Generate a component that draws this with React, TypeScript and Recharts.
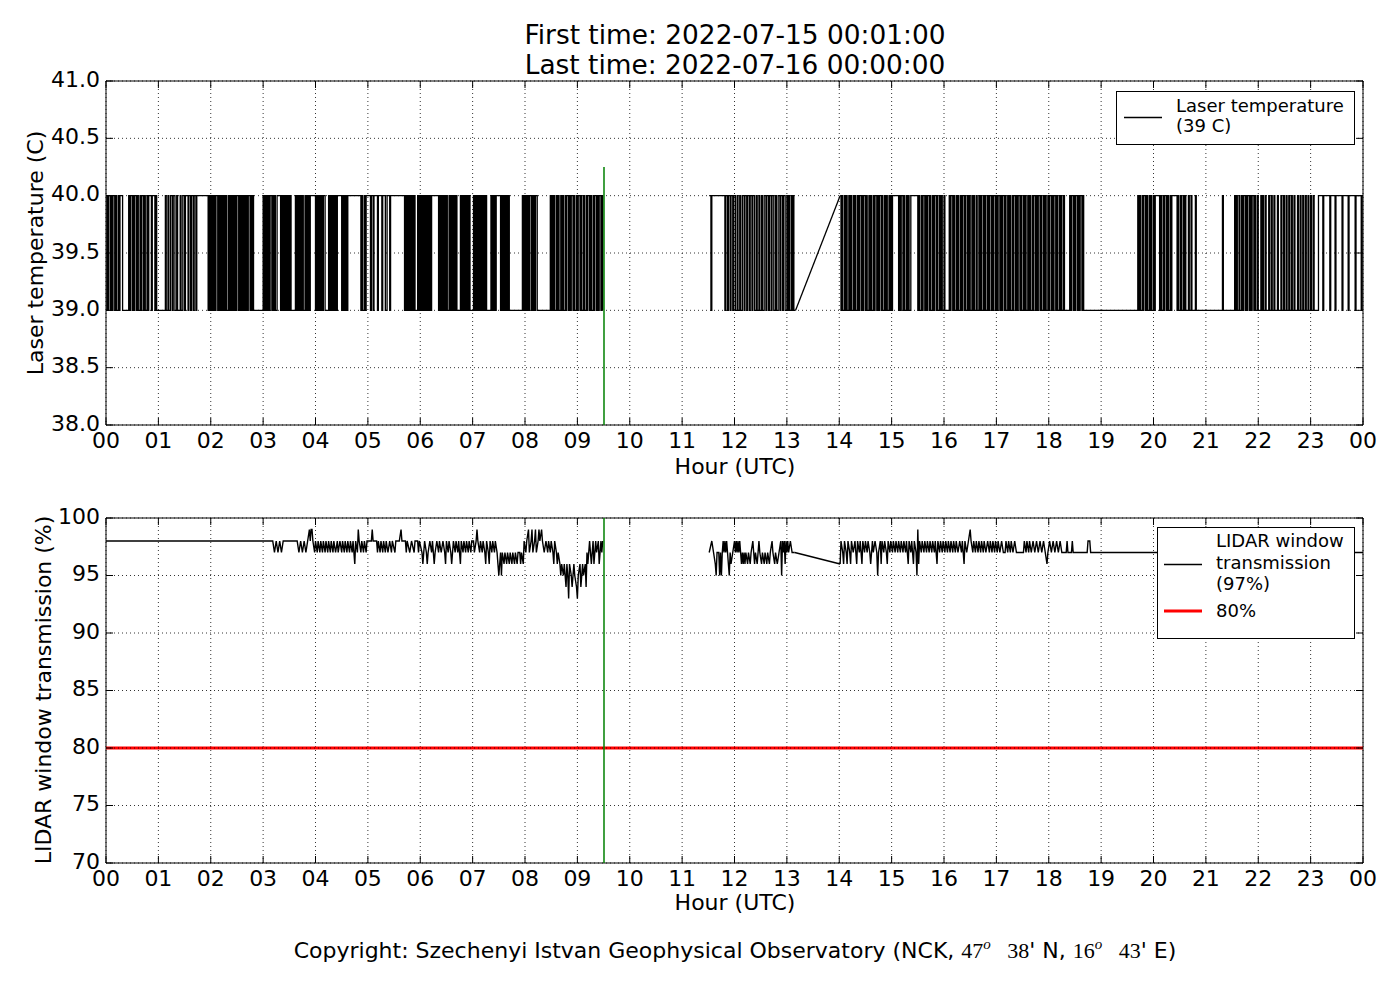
import React from "react";
import { CartesianGrid, Line, LineChart, ReferenceArea, ReferenceLine, XAxis, YAxis } from "recharts";

// x values are minutes of the day (00:00 .. 24:00)
const hourTicks = [0, 60, 120, 180, 240, 300, 360, 420, 480, 540, 600, 660, 720, 780, 840, 900, 960, 1020, 1080, 1140, 1200, 1260, 1320, 1380, 1440];
const hourLabels = ["00", "01", "02", "03", "04", "05", "06", "07", "08", "09", "10", "11", "12", "13", "14", "15", "16", "17", "18", "19", "20", "21", "22", "23", "00"];
const tempTicks = [38, 38.5, 39, 39.5, 40, 40.5, 41];
const transTicks = [70, 75, 80, 85, 90, 95, 100];
const lastSampleMinute = 570.5;
const markerTop = 40.25;
const threshold = 80;

type Pair = [number, number];

// laser temperature (C), change points [minute, value]
const laserA: Pair[] = [
  [0, 39], [1, 40], [2, 39], [3, 40], [5, 39], [6, 40], [7, 39], [8, 40], [10, 39], [11, 40], [12, 39], [14, 40], [15, 39], [16, 40], [19, 39],
  [26, 40], [27, 39], [28, 40], [30, 39], [31, 40], [32, 39], [33, 40], [35, 39], [36, 40], [37, 39], [39, 40], [40, 39], [41, 40], [43, 39],
  [44, 40], [45, 39], [47, 40], [48, 39], [49, 40], [52, 39], [53, 40], [56, 39], [57, 40], [58, 39],
  [68, 40], [69, 39], [71, 40], [72, 39], [74, 40], [76, 39], [77, 40], [79, 39], [81, 40], [82, 39], [85, 40], [86, 39], [88, 40], [90, 39],
  [91, 40], [94, 39], [95, 40], [97, 39], [98, 40], [100, 39], [101, 40], [103, 39], [104, 40],
  [117, 39], [118, 40], [119, 39], [120, 40], [121, 39], [122, 40], [123, 39], [124, 40], [125, 39], [126, 40], [128, 39], [129, 40], [130, 39],
  [131, 40], [132, 39], [133, 40], [134, 39], [135, 40], [136, 39], [137, 40], [138, 39], [140, 40], [141, 39], [142, 40], [143, 39], [144, 40],
  [145, 39], [146, 40], [147, 39], [148, 40], [149, 39], [150, 40], [152, 39], [153, 40], [154, 39], [155, 40], [156, 39], [157, 40], [158, 39],
  [159, 40], [160, 39], [161, 40], [162, 39], [163, 40], [165, 39], [166, 40], [167, 39], [168, 40], [169, 39],
  [180, 40], [181, 39], [182, 40], [183, 39], [184, 40], [185, 39], [186, 40], [187, 39], [188, 40], [190, 39], [191, 40], [192, 39], [193, 40],
  [194, 39], [196, 40], [200, 39], [201, 40], [202, 39], [203, 40], [204, 39], [205, 40], [206, 39], [207, 40], [208, 39], [209, 40], [210, 39],
  [211, 40], [212, 39], [217, 40], [218, 39], [219, 40], [220, 39], [221, 40], [222, 39], [223, 40], [224, 39], [225, 40], [226, 39], [228, 40],
  [229, 39], [230, 40], [231, 39], [232, 40], [233, 39], [234, 40], [240, 39], [241, 40], [242, 39], [243, 40], [244, 39], [245, 40], [246, 39],
  [247, 40], [248, 39], [249, 40], [251, 39], [255, 40], [256, 39], [257, 40], [258, 39], [259, 40], [260, 39], [261, 40], [262, 39], [263, 40],
  [264, 39], [265, 40], [270, 39], [271, 40], [272, 39], [273, 40], [274, 39], [275, 40], [276, 39], [277, 40],
  [292, 39], [293, 40], [294, 39], [296, 40], [297, 39], [298, 40], [303, 39], [304, 40], [306, 39], [307, 40], [311, 39], [312, 40], [316, 39],
  [317, 40], [320, 39], [322, 40], [325, 39], [326, 40],
  [342, 39], [343, 40], [344, 39], [345, 40], [346, 39], [347, 40], [348, 39], [349, 40], [350, 39], [351, 40], [352, 39], [353, 40], [354, 39],
  [357, 40], [358, 39], [359, 40], [360, 39], [361, 40], [362, 39], [363, 40], [364, 39], [365, 40], [366, 39], [367, 40], [368, 39], [369, 40],
  [370, 39], [371, 40], [372, 39], [373, 40], [381, 39], [382, 40], [383, 39], [384, 40], [385, 39], [386, 40], [387, 39], [388, 40], [389, 39],
  [390, 40], [391, 39], [393, 40], [394, 39], [395, 40], [396, 39], [397, 40], [398, 39], [399, 40], [400, 39], [401, 40], [402, 39],
  [406, 40], [407, 39], [408, 40], [409, 39], [410, 40], [411, 39], [412, 40], [413, 39], [414, 40], [415, 39], [416, 40], [417, 39],
  [421, 40], [422, 39], [423, 40], [424, 39], [425, 40], [426, 39], [427, 40], [428, 39], [429, 40], [430, 39], [431, 40], [432, 39], [433, 40],
  [434, 39], [435, 40], [436, 39], [441, 40], [442, 39], [443, 40], [444, 39], [445, 40], [446, 39], [447, 40],
  [452, 39], [453, 40], [454, 39], [455, 40], [456, 39], [457, 40], [458, 39], [459, 40], [460, 39], [461, 40], [462, 39],
  [477, 40], [478, 39], [479, 40], [480, 39], [481, 40], [482, 39], [483, 40], [484, 39], [485, 40], [487, 39], [488, 40], [489, 39], [490, 40],
  [491, 39], [492, 40], [494, 39],
  [509, 40], [510, 39], [511, 40], [512, 39], [513, 40], [514, 39], [516, 40], [517, 39], [518, 40], [519, 39], [521, 40], [522, 39], [523, 40],
  [524, 39], [526, 40], [527, 39], [528, 40], [530, 39], [531, 40], [532, 39], [533, 40], [535, 39], [536, 40], [537, 39], [539, 40], [540, 39],
  [541, 40], [543, 39], [544, 40], [545, 39], [547, 40], [548, 39], [550, 40], [551, 39], [552, 40], [554, 39], [555, 40], [556, 39], [558, 40],
  [559, 39], [560, 40], [562, 39], [563, 40], [564, 39], [565, 40], [567, 39], [568, 40], [569, 39],
];

const laserB: Pair[] = [
  [691, 40], [693, 39], [694, 40], [709, 39], [710, 40], [712, 39], [713, 40], [715, 39], [716, 40], [718, 39], [719, 40], [721, 39], [723, 40],
  [724, 39], [726, 40], [727, 39], [729, 40], [731, 39], [732, 40], [734, 39], [735, 40], [737, 39], [738, 40], [740, 39], [741, 40], [743, 39],
  [745, 40], [746, 39], [748, 40], [749, 39], [751, 40], [752, 39], [754, 40], [756, 39], [757, 40], [759, 39], [760, 40], [762, 39], [763, 40],
  [765, 39], [767, 40], [768, 39], [770, 40], [772, 39], [773, 40], [775, 39], [776, 40], [778, 39], [780, 40], [781, 39], [782, 40], [783, 39],
  [785, 40], [786, 39], [787, 40], [788, 39], [790, 39],
];

const laserBridge: Pair[] = [[790, 39], [841, 40]];

const laserC: Pair[] = [
  [841, 40], [842, 39], [843, 40], [844, 39], [846, 40], [847, 39], [848, 40], [849, 39], [851, 40], [852, 39], [853, 40], [854, 39], [856, 40],
  [857, 39], [858, 40], [859, 39], [861, 40], [862, 39], [863, 40], [865, 39], [866, 40], [867, 39], [868, 40], [870, 39], [871, 40], [872, 39],
  [874, 40], [875, 39], [876, 40], [877, 39], [879, 40], [880, 39], [881, 40], [883, 39], [884, 40], [885, 39], [886, 40], [888, 39], [889, 40],
  [890, 39], [892, 40], [893, 39], [894, 40], [895, 39], [897, 40], [898, 39], [899, 40], [900, 39], [901, 40],
  [908, 39], [909, 40], [910, 39], [911, 40], [913, 39], [914, 40], [915, 39], [917, 40], [918, 39], [919, 40], [920, 39], [922, 40],
  [930, 39], [931, 40], [932, 39], [934, 40], [935, 39], [936, 40], [938, 39], [939, 40], [940, 39], [941, 40], [943, 39], [944, 40], [945, 39],
  [947, 40], [948, 39], [949, 40], [951, 39], [952, 40], [953, 39], [955, 40], [956, 39], [957, 40], [958, 39], [960, 40], [961, 39],
  [966, 40], [967, 39], [968, 40], [970, 39], [971, 40], [972, 39], [974, 40], [975, 39], [976, 40], [977, 39], [979, 40], [980, 39], [981, 40],
  [983, 39], [984, 40], [985, 39], [987, 40], [988, 39], [989, 40], [990, 39], [992, 40], [993, 39], [994, 40], [995, 39], [997, 40], [998, 39],
  [1000, 40], [1001, 39], [1002, 40], [1003, 39], [1005, 40], [1006, 39], [1007, 40], [1008, 39], [1010, 40], [1011, 39], [1012, 40], [1014, 39],
  [1015, 40], [1016, 39], [1017, 40], [1019, 39], [1020, 40], [1021, 39], [1022, 40], [1024, 39], [1025, 40], [1026, 39], [1027, 40], [1029, 39],
  [1030, 40], [1031, 39], [1033, 40], [1034, 39], [1035, 40], [1036, 39], [1038, 40], [1039, 39], [1040, 40], [1042, 39], [1043, 40], [1044, 39],
  [1045, 40], [1047, 39], [1048, 40], [1049, 39], [1051, 40], [1052, 39], [1053, 40], [1054, 39], [1056, 40], [1057, 39], [1058, 40], [1059, 39],
  [1061, 40], [1062, 39], [1063, 40], [1065, 39], [1066, 40], [1067, 39], [1068, 40], [1070, 39], [1071, 40], [1072, 39], [1074, 40], [1075, 39],
  [1076, 40], [1077, 39], [1079, 40], [1080, 39], [1081, 40], [1083, 39], [1084, 40], [1085, 39], [1086, 40], [1088, 39], [1089, 40], [1090, 39],
  [1092, 40], [1093, 39], [1094, 40], [1095, 39], [1097, 40], [1098, 39], [1104, 40], [1105, 39], [1106, 40], [1108, 39], [1109, 40], [1110, 39],
  [1111, 40], [1113, 39], [1114, 40], [1115, 39], [1116, 40], [1118, 39], [1119, 40], [1120, 39],
  [1182, 40], [1183, 39], [1184, 40], [1185, 39], [1187, 40], [1188, 39], [1189, 40], [1191, 39], [1192, 40], [1193, 39], [1195, 40], [1196, 39],
  [1197, 40], [1198, 39], [1200, 40], [1201, 39], [1202, 40], [1207, 39], [1208, 40], [1209, 39], [1211, 40], [1212, 39], [1213, 40], [1215, 39],
  [1216, 40], [1217, 39], [1219, 40], [1220, 39], [1221, 40], [1227, 39], [1228, 40], [1229, 39], [1231, 40], [1232, 39], [1234, 40], [1235, 39],
  [1236, 40], [1237, 39], [1240, 40], [1241, 39], [1243, 40], [1244, 39], [1248, 40], [1249, 39], [1279, 40], [1280, 39],
  [1293, 40], [1294, 39], [1295, 40], [1296, 39], [1298, 40], [1299, 39], [1301, 40], [1302, 39], [1303, 40], [1305, 39], [1306, 40], [1307, 39],
  [1308, 40], [1310, 39], [1311, 40], [1312, 39], [1313, 40], [1315, 39], [1316, 40], [1317, 39], [1319, 40], [1320, 39], [1323, 40], [1324, 39],
  [1325, 40], [1326, 39], [1328, 40], [1329, 39], [1332, 40], [1333, 39], [1335, 40], [1336, 39], [1338, 40], [1339, 39], [1342, 40], [1343, 39],
  [1346, 40], [1347, 39], [1349, 40], [1350, 39], [1352, 40], [1353, 39], [1355, 40], [1356, 39], [1358, 40], [1359, 39], [1361, 40], [1362, 39],
  [1365, 40], [1366, 39], [1368, 40], [1369, 39], [1371, 40], [1372, 39], [1374, 40], [1375, 39], [1377, 40], [1378, 39], [1380, 40], [1381, 39],
  [1383, 40], [1384, 39], [1389, 40], [1394, 39], [1395, 40], [1402, 39], [1403, 40], [1408, 39], [1409, 40], [1416, 39], [1417, 40], [1423, 39],
  [1424, 40], [1431, 39], [1432, 40], [1438, 39], [1439, 40], [1440, 40],
];

// LIDAR window transmission (%), samples [minute, value]
const transA: Pair[] = [
  [0, 98], [191, 98], [193, 97], [195, 98], [197, 97], [199, 98], [201, 97], [203, 98],
  [219, 98], [221, 97], [223, 98], [225, 97], [227, 98], [229, 97], [231, 98], [233, 99],
  [234, 98], [235, 99], [236, 99], [237, 98], [239, 97], [240, 98], [242, 97], [243, 98], [245, 97], [246, 98], [248, 97], [249, 98], [251, 97],
  [252, 98], [254, 97], [255, 98], [257, 97], [258, 98], [260, 97], [261, 98], [263, 97], [265, 98], [266, 97], [268, 98], [270, 97], [271, 98],
  [273, 97], [274, 98], [276, 97], [277, 98], [279, 97], [280, 98], [282, 97], [283, 98], [285, 96], [286, 98], [288, 97], [289, 99], [290, 98],
  [292, 97], [293, 98], [295, 97], [296, 98], [298, 97], [299, 98], [304, 98], [305, 99], [306, 98], [310, 98], [311, 97], [312, 98], [314, 97],
  [315, 98], [317, 97], [318, 98], [320, 97], [321, 98], [323, 97], [325, 98], [327, 97], [328, 98], [331, 97], [332, 98], [336, 98], [338, 99],
  [339, 98], [343, 98], [344, 97], [345, 98], [348, 97], [350, 98], [353, 97], [354, 98], [357, 98], [358, 97], [359, 98], [362, 97], [363, 96],
  [364, 97], [365, 98], [367, 97], [368, 96], [369, 97], [371, 98], [373, 97], [374, 98], [376, 96], [377, 97], [379, 98], [381, 97], [382, 98],
  [384, 97], [386, 98], [388, 97], [389, 96], [390, 98], [392, 97], [393, 98], [395, 97], [396, 96], [397, 97], [398, 98], [400, 97], [401, 98],
  [403, 97], [404, 98], [406, 96], [407, 98], [409, 97], [410, 98], [412, 97], [413, 98], [415, 97], [416, 98], [418, 97], [419, 98], [421, 98],
  [422, 97], [424, 98], [425, 99], [426, 98], [428, 97], [429, 98], [431, 97], [432, 98], [434, 97], [435, 96], [436, 98], [438, 97], [439, 96],
  [440, 98], [442, 97], [443, 98], [445, 97], [446, 98], [448, 97], [449, 96], [450, 95], [451, 96], [452, 97], [453, 95], [454, 97], [456, 96],
  [457, 97], [459, 96], [460, 97], [462, 96], [463, 97], [465, 96], [466, 97], [468, 96], [469, 97], [471, 96], [472, 97], [474, 97], [475, 96],
  [476, 97], [478, 96], [479, 98], [481, 97], [482, 98], [484, 99], [485, 97], [487, 98], [488, 99], [489, 97], [491, 98], [492, 99], [493, 97],
  [495, 98], [496, 99], [497, 98], [499, 99], [500, 98], [502, 97], [504, 98], [506, 97], [507, 98], [509, 97], [510, 98], [512, 97], [513, 96],
  [514, 98], [516, 97], [517, 96], [518, 97], [520, 96], [521, 95], [522, 96], [524, 95], [525, 96], [527, 94], [528, 96], [529, 95], [530, 93],
  [531, 96], [533, 95], [534, 94], [536, 96], [537, 95], [539, 94], [540, 93], [541, 95], [543, 96], [544, 94], [546, 96], [547, 95], [549, 96],
  [550, 94], [551, 97], [552, 96], [554, 98], [555, 97], [556, 96], [558, 98], [559, 96], [561, 98], [562, 97], [564, 98], [565, 96], [567, 98],
  [568, 97], [569, 98],
];

const transB: Pair[] = [
  [691, 97], [694, 98], [696, 97], [698, 96], [699, 95], [700, 97], [702, 97], [703, 95], [704, 97], [705, 95], [706, 97], [707, 98], [708, 97],
  [709, 98], [710, 97], [711, 98], [712, 97], [713, 96], [714, 95], [715, 97], [716, 96], [718, 97], [720, 98], [721, 97], [722, 98], [723, 97],
  [724, 98], [725, 97], [726, 98], [727, 97], [728, 96], [729, 97], [730, 96], [731, 97], [732, 96], [733, 97], [735, 96], [736, 97], [738, 96],
  [739, 97], [741, 98], [742, 97], [743, 96], [744, 97], [746, 96], [747, 97], [748, 98], [749, 97], [751, 96], [752, 97], [754, 96], [755, 97],
  [757, 96], [758, 97], [760, 96], [761, 97], [763, 98], [764, 97], [766, 96], [767, 97], [769, 96], [771, 97], [773, 98], [774, 95], [775, 98],
  [776, 97], [777, 98], [778, 96], [779, 98], [780, 97], [781, 98], [782, 97], [784, 98], [786, 97], [789, 97],
];

const transBridge: Pair[] = [[789, 97], [841, 96]];

const transC: Pair[] = [
  [841, 96], [842, 98], [844, 97], [845, 96], [846, 98], [848, 97], [849, 96], [850, 98], [852, 97], [853, 96], [854, 98], [856, 97], [858, 98],
  [859, 97], [860, 96], [861, 98], [863, 97], [864, 98], [866, 96], [867, 98], [869, 97], [870, 98], [872, 97], [873, 98], [875, 97], [876, 96],
  [878, 98], [879, 97], [881, 98], [883, 97], [884, 95], [885, 97], [887, 98], [888, 96], [889, 98], [891, 97], [892, 98], [894, 97], [895, 96],
  [896, 98], [898, 97], [899, 98], [901, 97], [902, 98], [904, 97], [905, 98], [907, 97], [908, 98], [910, 97], [911, 98], [913, 97], [914, 98],
  [916, 97], [917, 98], [919, 96], [920, 98], [922, 97], [923, 98], [925, 96], [926, 98], [928, 97], [929, 95], [930, 99], [931, 96], [932, 98],
  [934, 97], [935, 98], [937, 97], [938, 98], [940, 97], [941, 98], [943, 97], [944, 98], [946, 97], [947, 98], [949, 97], [950, 98], [952, 96],
  [953, 98], [955, 97], [956, 98], [958, 97], [959, 98], [961, 97], [962, 98], [964, 97], [965, 98], [967, 97], [968, 98], [970, 97], [971, 98],
  [973, 97], [974, 98], [976, 97], [978, 98], [980, 97], [981, 98], [983, 96], [984, 98], [986, 97], [988, 98], [990, 99], [991, 98], [993, 97],
  [994, 98], [996, 97], [997, 98], [999, 97], [1000, 98], [1002, 97], [1003, 98], [1005, 97], [1006, 98], [1008, 97], [1010, 98], [1012, 97],
  [1013, 98], [1015, 97], [1016, 98], [1018, 97], [1019, 98], [1021, 97], [1022, 98], [1024, 97], [1026, 98], [1028, 97], [1030, 97], [1031, 98],
  [1033, 97], [1034, 98], [1036, 97], [1037, 98], [1039, 97], [1041, 98], [1043, 97], [1051, 97], [1052, 98], [1054, 97], [1055, 98],
  [1057, 97], [1058, 98], [1060, 97], [1062, 98], [1064, 97], [1066, 98], [1068, 97], [1070, 98], [1072, 97], [1074, 98], [1076, 97], [1078, 96],
  [1079, 97], [1081, 98], [1083, 97], [1085, 98], [1087, 97], [1089, 98], [1091, 97], [1093, 98], [1095, 97], [1100, 97], [1101, 98], [1102, 97],
  [1106, 97], [1107, 98], [1108, 97], [1124, 97], [1125, 98], [1127, 98], [1128, 97], [1440, 97],
];

const rows = (pairs: Pair[]) => pairs.map(([m, v]) => ({ m, v }));

const FONT = "DejaVu Sans";
const PLOT_LEFT = 106;
const PLOT_RIGHT = 1363;
const TICK_LEN = 7;

function xTick(top: number, bottom: number) {
  return (p: any) => {
    const i = hourTicks.indexOf(p.payload.value);
    return (
      <g>
        <line x1={p.x} x2={p.x} y1={bottom} y2={bottom - TICK_LEN} stroke="#000" />
        <line x1={p.x} x2={p.x} y1={top} y2={top + TICK_LEN} stroke="#000" />
        <text x={p.x} y={p.y} dy="0.71em" textAnchor="middle" fontSize={22} fontFamily={FONT} fill="#000">
          {hourLabels[i]}
        </text>
      </g>
    );
  };
}

function yTick(fmt: (v: number) => string) {
  return (p: any) => (
    <g>
      <line x1={PLOT_LEFT} x2={PLOT_LEFT + TICK_LEN} y1={p.y} y2={p.y} stroke="#000" />
      <line x1={PLOT_RIGHT - TICK_LEN} x2={PLOT_RIGHT} y1={p.y} y2={p.y} stroke="#000" />
      <text x={p.x} y={p.y} dy="0.25em" textAnchor="end" fontSize={22} fontFamily={FONT} fill="#000">
        {fmt(p.payload.value)}
      </text>
    </g>
  );
}

function TemperaturePanel() {
  const top = 81;
  const bottom = 425;
  return (
    <LineChart width={1400} height={480} margin={{ top, right: 37, bottom: 5, left: 46 }}>
      <CartesianGrid stroke="#000" strokeWidth={0.8} strokeDasharray="1 3" />
      <XAxis dataKey="m" type="number" domain={[0, 1440]} ticks={hourTicks} interval={0} height={50}
        axisLine={false} tickLine={false} tickSize={0} tickMargin={7} tick={xTick(top, bottom)} />
      <YAxis type="number" domain={[38, 41]} ticks={tempTicks} interval={0} width={60}
        axisLine={false} tickLine={false} tickSize={0} tickMargin={6} tick={yTick((v) => v.toFixed(1))} />
      <Line data={rows(laserA)} dataKey="v" type="stepAfter" stroke="#000" strokeWidth={1.3} dot={false} isAnimationActive={false} />
      <Line data={rows(laserB)} dataKey="v" type="stepAfter" stroke="#000" strokeWidth={1.3} dot={false} isAnimationActive={false} />
      <Line data={rows(laserBridge)} dataKey="v" type="linear" stroke="#000" strokeWidth={1.3} dot={false} isAnimationActive={false} />
      <Line data={rows(laserC)} dataKey="v" type="stepAfter" stroke="#000" strokeWidth={1.3} dot={false} isAnimationActive={false} />
      <ReferenceLine segment={[{ x: lastSampleMinute, y: 38 }, { x: lastSampleMinute, y: markerTop }]} stroke="#008000" strokeWidth={1.5} />
      <ReferenceArea x1={0} x2={1440} y1={38} y2={41} fill="none" stroke="#000" strokeWidth={1} />
    </LineChart>
  );
}

function TransmissionPanel() {
  const top = 78;
  const bottom = 423;
  return (
    <LineChart width={1400} height={500} margin={{ top, right: 37, bottom: 27, left: 46 }}>
      <CartesianGrid stroke="#000" strokeWidth={0.8} strokeDasharray="1 3" />
      <XAxis dataKey="m" type="number" domain={[0, 1440]} ticks={hourTicks} interval={0} height={50}
        axisLine={false} tickLine={false} tickSize={0} tickMargin={7} tick={xTick(top, bottom)} />
      <YAxis type="number" domain={[70, 100]} ticks={transTicks} interval={0} width={60}
        axisLine={false} tickLine={false} tickSize={0} tickMargin={6} tick={yTick((v) => String(v))} />
      <ReferenceLine y={threshold} stroke="#ff0000" strokeWidth={3} />
      <ReferenceLine y={threshold} stroke="#000" strokeWidth={0.8} strokeDasharray="1 3" />
      <Line data={rows(transA)} dataKey="v" type="linear" stroke="#000" strokeWidth={1.4} dot={false} isAnimationActive={false} />
      <Line data={rows(transB)} dataKey="v" type="linear" stroke="#000" strokeWidth={1.4} dot={false} isAnimationActive={false} />
      <Line data={rows(transBridge)} dataKey="v" type="linear" stroke="#000" strokeWidth={1.4} dot={false} isAnimationActive={false} />
      <Line data={rows(transC)} dataKey="v" type="linear" stroke="#000" strokeWidth={1.4} dot={false} isAnimationActive={false} />
      <ReferenceLine x={lastSampleMinute} stroke="#008000" strokeWidth={1.5} />
      <ReferenceArea x1={0} x2={1440} y1={70} y2={100} fill="none" stroke="#000" strokeWidth={1} />
    </LineChart>
  );
}

function Overlay() {
  const serif = "Liberation Serif";
  return (
    <svg width={1400} height={1000} style={{ position: "absolute", left: 0, top: 0, pointerEvents: "none" }}
      fontFamily={FONT} fill="#000">
      <text x={735} y={44} fontSize={26.4} textAnchor="middle">First time: 2022-07-15 00:01:00</text>
      <text x={735} y={74} fontSize={26.4} textAnchor="middle">Last time: 2022-07-16 00:00:00</text>

      <text x={735} y={474} fontSize={22} textAnchor="middle">Hour (UTC)</text>
      <text x={735} y={910} fontSize={22} textAnchor="middle">Hour (UTC)</text>

      <text transform="translate(43,253) rotate(-90)" fontSize={22} textAnchor="middle">Laser temperature (C)</text>
      <text transform="translate(51,690) rotate(-90)" fontSize={22} textAnchor="middle">LIDAR window transmission (%)</text>

      <rect x={1116.5} y={91.5} width={238} height={53} fill="#fff" stroke="#000" strokeWidth={1} />
      <line x1={1124} x2={1162} y1={117.5} y2={117.5} stroke="#000" strokeWidth={1.3} />
      <text x={1176} y={112} fontSize={18}>Laser temperature</text>
      <text x={1176} y={132} fontSize={18}>(39 C)</text>

      <rect x={1157.5} y={527.5} width={197} height={111} fill="#fff" stroke="#000" strokeWidth={1} />
      <line x1={1164} x2={1202} y1={564.5} y2={564.5} stroke="#000" strokeWidth={1.3} />
      <text x={1216} y={547} fontSize={18}>LIDAR window</text>
      <text x={1216} y={569} fontSize={18}>transmission</text>
      <text x={1216} y={590} fontSize={18}>(97%)</text>
      <line x1={1164} x2={1202} y1={611} y2={611} stroke="#ff0000" strokeWidth={3} />
      <text x={1216} y={617} fontSize={18}>80%</text>

      <text x={735} y={958} fontSize={22} textAnchor="middle">
        <tspan>Copyright: Szechenyi Istvan Geophysical Observatory (NCK, </tspan>
        <tspan fontFamily={serif}>47</tspan>
        <tspan fontFamily={serif} fontStyle="italic" fontSize={15} dy={-9}>o</tspan>
        <tspan fontFamily={serif} dy={9}>{"\u2002 38"}</tspan>
        <tspan>' N, </tspan>
        <tspan fontFamily={serif}>16</tspan>
        <tspan fontFamily={serif} fontStyle="italic" fontSize={15} dy={-9}>o</tspan>
        <tspan fontFamily={serif} dy={9}>{"\u2002 43"}</tspan>
        <tspan>' E)</tspan>
      </text>
    </svg>
  );
}

export default function App() {
  return (
    <div style={{ position: "absolute", left: 0, top: 0, width: 1400, height: 1000, background: "#fff" }}>
      <div style={{ position: "absolute", left: 0, top: 0 }}>
        <TemperaturePanel />
      </div>
      <div style={{ position: "absolute", left: 0, top: 440 }}>
        <TransmissionPanel />
      </div>
      <Overlay />
    </div>
  );
}
